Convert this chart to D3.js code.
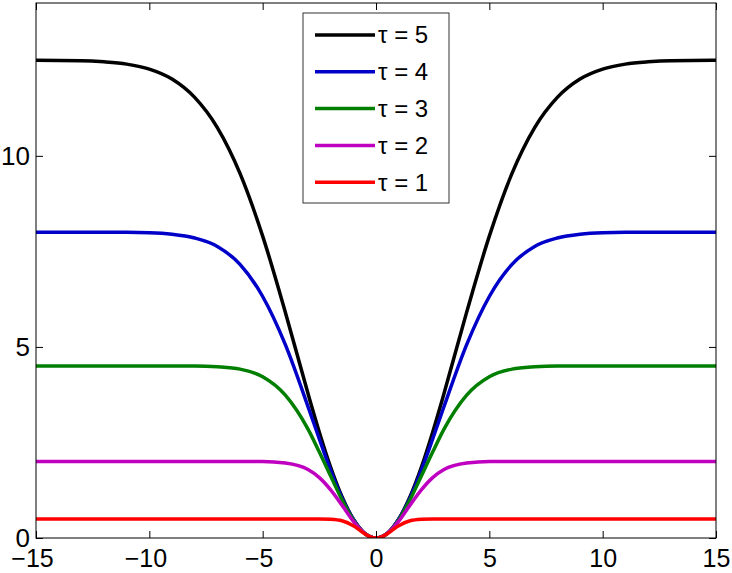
<!DOCTYPE html>
<html>
<head>
<meta charset="utf-8">
<script src="https://cdn.jsdelivr.net/npm/d3@7"></script>
<style>
  body { margin: 0; background: #fff; }
  svg { display: block; font-family: "Liberation Sans", Arial, sans-serif; }
</style>
</head>
<body>
<div id="viz"></div>
<script>
const width = 732;
const height = 573;
const margin = {top: 3, right: 16, bottom: 35, left: 36};
const lineWidth = 3.5;

// values
const xValues = [-15, -13, -12, -11, -10, -9, -8, -7, -6, -5, -4, -3, -2.5, -2, -1.5, -1, -0.75, -0.5, -0.25,
  0, 0.25, 0.5, 0.75, 1, 1.5, 2, 2.5, 3, 4, 5, 6, 7, 8, 9, 10, 11, 12, 13, 15];

const tau5 = [12.5, 12.49, 12.46, 12.4, 12.27, 12.01, 11.53, 10.74, 9.54, 7.9, 5.91, 3.78, 2.77, 1.85, 1.08, 0.49, 0.28, 0.12, 0.03,
  0, 0.03, 0.12, 0.28, 0.49, 1.08, 1.85, 2.77, 3.78, 5.91, 7.9, 9.54, 10.74, 11.53, 12.01, 12.27, 12.4, 12.46, 12.49, 12.5];
const tau4 = [8, 8, 8, 8, 7.99, 7.95, 7.85, 7.63, 7.16, 6.32, 5.06, 3.44, 2.59, 1.77, 1.05, 0.49, 0.28, 0.12, 0.03,
  0, 0.03, 0.12, 0.28, 0.49, 1.05, 1.77, 2.59, 3.44, 5.06, 6.32, 7.16, 7.63, 7.85, 7.95, 7.99, 8, 8, 8, 8];
const tau3 = [4.5, 4.5, 4.5, 4.5, 4.5, 4.5, 4.5, 4.48, 4.42, 4.22, 3.74, 2.85, 2.25, 1.62, 1.0, 0.47, 0.27, 0.12, 0.03,
  0, 0.03, 0.12, 0.27, 0.47, 1.0, 1.62, 2.25, 2.85, 3.74, 4.22, 4.42, 4.48, 4.5, 4.5, 4.5, 4.5, 4.5, 4.5, 4.5];
const tau2 = [2, 2, 2, 2, 2, 2, 2, 2, 2, 2, 1.96, 1.79, 1.58, 1.26, 0.86, 0.44, 0.26, 0.12, 0.03,
  0, 0.03, 0.12, 0.26, 0.44, 0.86, 1.26, 1.58, 1.79, 1.96, 2, 2, 2, 2, 2, 2, 2, 2, 2, 2];
const tau1 = [0.5, 0.5, 0.5, 0.5, 0.5, 0.5, 0.5, 0.5, 0.5, 0.5, 0.5, 0.5, 0.5, 0.49, 0.45, 0.32, 0.22, 0.11, 0.03,
  0, 0.03, 0.11, 0.22, 0.32, 0.45, 0.49, 0.5, 0.5, 0.5, 0.5, 0.5, 0.5, 0.5, 0.5, 0.5, 0.5, 0.5, 0.5, 0.5];

const seriesNames = ['τ = 5', 'τ = 4', 'τ = 3', 'τ = 2', 'τ = 1'];
const seriesValues = [tau5, tau4, tau3, tau2, tau1];
const seriesColors = ['#000000', '#0000c8', '#007f00', '#c000c0', '#ff0000'];

const xTicks = [-15, -10, -5, 0, 5, 10, 15];
const yTicks = [0, 5, 10];

const svg = d3.select('#viz')
  .append('svg')
  .attr('width', width)
  .attr('height', height);

const xScale = d3.scaleLinear()
  .domain([-15, 15])
  .range([margin.left, width - margin.right]);

const yScale = d3.scaleLinear()
  .domain([0, 14])
  .range([height - margin.bottom, margin.top]);

const fmt = d => d < 0 ? '\u2212' + Math.abs(d) : String(d);

// curves
const line = d3.line()
  .x(d => xScale(d[0]))
  .y(d => yScale(d[1]))
  .curve(d3.curveMonotoneX);

svg.append('defs').append('clipPath')
  .attr('id', 'plot-clip')
  .append('rect')
  .attr('x', margin.left)
  .attr('y', margin.top)
  .attr('width', width - margin.left - margin.right)
  .attr('height', height - margin.top - margin.bottom);

svg.append('g')
  .attr('clip-path', 'url(#plot-clip)')
  .selectAll('path')
  .data(seriesValues)
  .join('path')
    .attr('d', vals => line(vals.map((v, i) => [xValues[i], v])))
    .attr('fill', 'none')
    .attr('stroke', (d, i) => seriesColors[i])
    .attr('stroke-width', lineWidth)
    .attr('stroke-linejoin', 'round');

// axes, matlab style: ticks inside, box all around
const tickLen = 7;
const xAxis = svg.append('g')
  .attr('transform', `translate(0,${height - margin.bottom})`)
  .call(d3.axisBottom(xScale).tickValues(xTicks).tickSize(-tickLen).tickPadding(11).tickFormat(fmt))
  .call(g => g.select('.domain').remove());

// minus sign pushes negative labels a bit to the left
xAxis.selectAll('.tick text')
  .attr('font-size', 25)
  .attr('x', d => d < 0 ? -4 : 0);

svg.append('g')
  .attr('transform', `translate(0,${margin.top})`)
  .call(d3.axisTop(xScale).tickValues(xTicks).tickSize(-tickLen).tickFormat(''))
  .call(g => g.select('.domain').remove());

const yAxis = svg.append('g')
  .attr('transform', `translate(${margin.left},0)`)
  .call(d3.axisLeft(yScale).tickValues(yTicks).tickSize(-tickLen).tickPadding(6).tickFormat(fmt))
  .call(g => g.select('.domain').remove());

yAxis.selectAll('.tick text')
  .attr('font-size', 26)
  .attr('dy', '0.32em');

svg.append('g')
  .attr('transform', `translate(${width - margin.right},0)`)
  .call(d3.axisRight(yScale).tickValues(yTicks).tickSize(-tickLen).tickFormat(''))
  .call(g => g.select('.domain').remove());

svg.selectAll('.tick text')
  .attr('font-family', '"Liberation Sans", Arial, sans-serif')
  .attr('fill', '#000');

svg.append('rect')
  .attr('x', margin.left)
  .attr('y', margin.top)
  .attr('width', width - margin.left - margin.right)
  .attr('height', height - margin.top - margin.bottom)
  .attr('fill', 'none')
  .attr('stroke', '#000')
  .attr('stroke-width', 1);

// legend
const legend = svg.append('g').attr('transform', 'translate(303,13)');
legend.append('rect')
  .attr('width', 146)
  .attr('height', 190)
  .attr('fill', '#fff')
  .attr('stroke', '#333')
  .attr('stroke-width', 1);

const rows = legend.selectAll('.row')
  .data(seriesNames)
  .join('g')
  .attr('class', 'row')
  .attr('transform', (d, i) => `translate(0,${22 + i * 36.8})`);

rows.append('line')
  .attr('x1', 12).attr('x2', 72)
  .attr('stroke', (d, i) => seriesColors[i])
  .attr('stroke-width', lineWidth);

rows.append('text')
  .attr('x', 75)
  .attr('dy', '0.35em')
  .attr('font-size', 24)
  .text(d => d);
</script>
</body>
</html>
